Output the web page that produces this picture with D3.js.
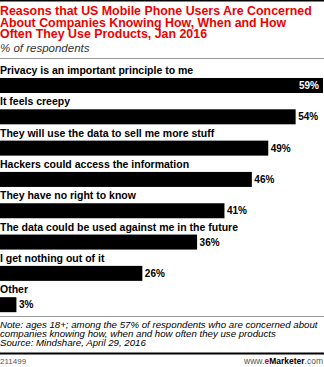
<!DOCTYPE html>
<html><head><meta charset="utf-8">
<script src="https://cdn.jsdelivr.net/npm/d3@7/dist/d3.min.js"></script>
<style>html,body{margin:0;padding:0;background:#fff;}svg{display:block;}</style>
</head><body>
<script>
const categories = [
  "Privacy is an important principle to me",
  "It feels creepy",
  "They will use the data to sell me more stuff",
  "Hackers could access the information",
  "They have no right to know",
  "The data could be used against me in the future",
  "I get nothing out of it",
  "Other"
];
const values = [59, 54, 49, 46, 41, 36, 26, 3];
const titleLines = [
  "Reasons that US Mobile Phone Users Are Concerned",
  "About Companies Knowing How, When and How",
  "Often They Use Products, Jan 2016"
];
const subtitle = "% of respondents";
const noteLines = [
  "Note: ages 18+; among the 57% of respondents who are concerned about",
  "companies knowing how, when and how often they use products",
  "Source: Mindshare, April 29, 2016"
];
const chartId = "211499";

const W = 324, H = 367;
const FONT = "Liberation Sans, Arial, sans-serif";
const svg = d3.select("body").append("svg").attr("width", W).attr("height", H);

// fit a multi-line text block so that its first line spans the given width
function fitBlock(textSel, targetWidth, baseSize) {
  const first = textSel.select("tspan").node();
  const w = first.getComputedTextLength();
  textSel.attr("font-size", baseSize * targetWidth / w);
}

// top rule
svg.append("rect").attr("x",0).attr("y",0).attr("width",W).attr("height",1.5).attr("fill","#000");

const title = svg.append("text").attr("font-family",FONT)
  .attr("font-weight","bold").attr("font-size",12).attr("fill","#ee0000");
titleLines.forEach((t,i)=>title.append("tspan").attr("x",0).attr("y",15+i*11.5).text(t));
fitBlock(title, 312, 12);

svg.append("text").attr("x",0).attr("y",52).attr("font-family",FONT)
  .attr("font-style","italic").attr("font-size",11.5).attr("fill","#333").text(subtitle);

svg.append("line").attr("x1",0).attr("x2",W).attr("y1",58.5).attr("y2",58.5).attr("stroke","#999").attr("stroke-width",1);

// scales
const x = d3.scaleLinear().domain([0, 59]).range([0, 323]);
const y = d3.scaleBand().domain(categories).range([62, 312.5]).paddingInner(0).paddingOuter(0);
const barH = 15;
const barOff = 16; // bar sits at the bottom of each band

const g = svg.append("g");
const rows = g.selectAll("g.row").data(categories).join("g").attr("class","row");

rows.append("text")
  .attr("x",0).attr("y",d=>y(d)+12)
  .attr("font-family",FONT).attr("font-weight","bold")
  .attr("font-size",10.5).attr("fill","#000").text(d=>d);

rows.append("rect")
  .attr("x",x(0)).attr("y",d=>y(d)+barOff)
  .attr("width",(d,i)=>x(values[i])-x(0)).attr("height",barH)
  .attr("fill","#000");

rows.append("text")
  .attr("x",(d,i)=> i===0 ? x(values[i]) - 4 : x(values[i]) + 2.5)
  .attr("y",d=>y(d)+barOff+barH/2+3.5)
  .attr("text-anchor",(d,i)=> i===0 ? "end" : "start")
  .attr("font-family",FONT).attr("font-weight","bold")
  .attr("font-size",10).attr("fill",(d,i)=> i===0 ? "#fff" : "#000")
  .text((d,i)=>values[i]+"%");

svg.append("line").attr("x1",0).attr("x2",W).attr("y1",316.5).attr("y2",316.5).attr("stroke","#999").attr("stroke-width",1);

const note = svg.append("text").attr("font-family",FONT)
  .attr("font-style","italic").attr("font-size",10).attr("fill","#000");
noteLines.forEach((t,i)=>note.append("tspan").attr("x",0).attr("y",328+i*8.8).text(t));
fitBlock(note, 318, 10);

svg.append("rect").attr("x",0).attr("y",352.5).attr("width",W).attr("height",2).attr("fill","#000");

svg.append("text").attr("x",0).attr("y",364).attr("font-family",FONT)
  .attr("font-size",8).attr("fill","#555").text(chartId);

const brand = svg.append("text").attr("x",323).attr("y",364).attr("text-anchor","end")
  .attr("font-family",FONT).attr("font-size",8.5).attr("fill","#555");
brand.append("tspan").text("www.");
brand.append("tspan").attr("fill","#e00").attr("font-weight","bold").text("e");
brand.append("tspan").attr("fill","#000").attr("font-weight","bold").text("Marketer");
brand.append("tspan").text(".com");
</script>
</body></html>
